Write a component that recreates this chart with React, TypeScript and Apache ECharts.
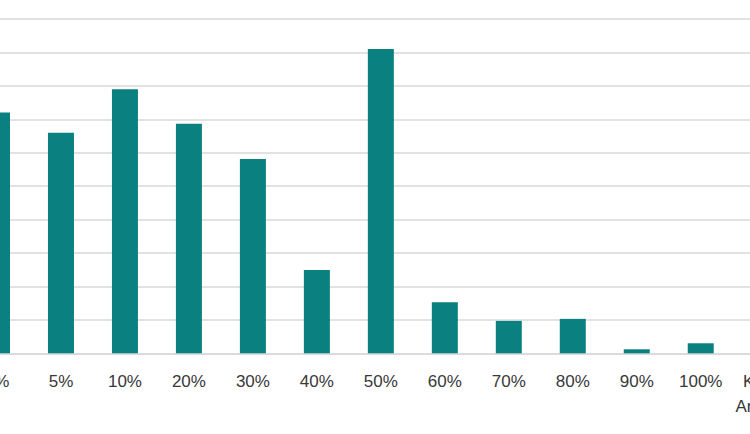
import React, { useEffect, useRef } from "react";
import * as echarts from "echarts";

const categories = ["0%", "5%", "10%", "20%", "30%", "40%", "50%", "60%", "70%", "80%", "90%", "100%", "Keine\nAngabe"];
const values = [7.2, 6.6, 7.9, 6.87, 5.81, 2.49, 9.1, 1.53, 0.97, 1.03, 0.12, 0.3, 0.5];

export default function App() {
  const ref = useRef<HTMLDivElement>(null);
  useEffect(() => {
    if (!ref.current) return;
    const chart = echarts.init(ref.current, undefined, { renderer: "svg" });
    chart.setOption({
      animation: false,
      backgroundColor: "#ffffff",
      grid: { left: 0, right: 0, top: 19, bottom: 80.7, containLabel: false },
      xAxis: {
        type: "category",
        data: categories,
        axisTick: { show: false },
        axisLine: { lineStyle: { color: "#d9d9d9", width: 1.5 } },
        axisLabel: {
          color: "#383838",
          fontFamily: "Liberation Sans",
          fontSize: 17,
          margin: 16,
          lineHeight: 25,
          interval: 0,
        },
      },
      yAxis: {
        type: "value",
        min: 0,
        max: 10,
        interval: 1,
        axisLabel: { show: false },
        axisLine: { show: false },
        axisTick: { show: false },
        splitLine: { lineStyle: { color: "#d9d9d9", width: 1.5 } },
      },
      series: [
        {
          type: "bar",
          data: values,
          barWidth: 26,
          itemStyle: { color: "#0a8080" },
        },
      ],
    });
    return () => chart.dispose();
  }, []);
  return (
    <div style={{ position: "fixed", left: 0, top: 0, width: 750, height: 434, overflow: "hidden", background: "#fff" }}>
      <div ref={ref} style={{ position: "absolute", left: -35, top: 0, width: 832, height: 434 }} />
    </div>
  );
}
